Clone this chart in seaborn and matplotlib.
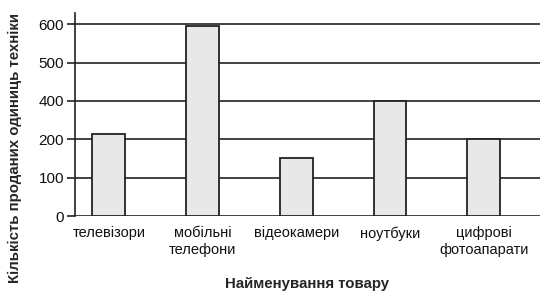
import numpy as np
import pandas as pd
import seaborn as sns
import matplotlib.pyplot as plt

categories = ['телевізори', 'мобільні\nтелефони', 'відеокамери', 'ноутбуки', 'цифрові\nфотоапарати']
sold = [230, 595, 150, 400, 200]
y_ticks = [0, 100, 200, 400, 500, 600]

# the printed axis skips 300: tick labels are evenly spaced
tick_pos = np.arange(len(y_ticks))


def forward(v):
    return np.interp(v, y_ticks, tick_pos) + np.where(
        np.asarray(v) > 600, (np.asarray(v) - 600) / 100, 0)


def inverse(p):
    return np.interp(p, tick_pos, y_ticks) + np.where(
        np.asarray(p) > 5, (np.asarray(p) - 5) * 100, 0)


df = pd.DataFrame({'item': categories, 'count': sold})

sns.set_style('white')
plt.rcParams['font.family'] = ['Liberation Sans', 'DejaVu Sans']

fig = plt.figure(figsize=(5.52, 3.03), dpi=100)
ax = fig.add_axes([0.136, 0.287, 0.842, 0.67])
ax.set_yscale('function', functions=(forward, inverse))

sns.barplot(data=df, x='item', y='count', color='#e8e8e8', edgecolor='#222222',
            linewidth=1.3, width=0.35, saturation=1, ax=ax, zorder=3)

ax.set_ylim(0, 629)
ax.set_xlim(-0.36, 4.6)
ax.set_yticks(y_ticks)
ax.set_yticklabels([str(t) for t in y_ticks])
ax.yaxis.set_minor_locator(plt.NullLocator())
for t in y_ticks:
    ax.axhline(t, color='#222222', lw=1.2, zorder=1)

for side in ['top', 'right', 'bottom']:
    ax.spines[side].set_visible(False)
ax.spines['left'].set_color('#222222')
ax.spines['left'].set_linewidth(1.2)

ax.tick_params(axis='y', left=True, length=6, width=1.2, color='#222222',
               labelsize=11, pad=2, labelcolor='#111111')
ax.tick_params(axis='x', bottom=False, labelsize=10.5, pad=4, labelcolor='#111111')

ax.set_xlabel('Найменування товару', fontsize=10.8, fontweight='bold')
ax.xaxis.set_label_coords(0.5, -0.30)
ax.set_ylabel('Кількість проданих одиниць техніки', fontsize=10.8, fontweight='bold')
ax.yaxis.set_label_coords(-0.115, 0.335)

plt.savefig('out.png', dpi=100)
